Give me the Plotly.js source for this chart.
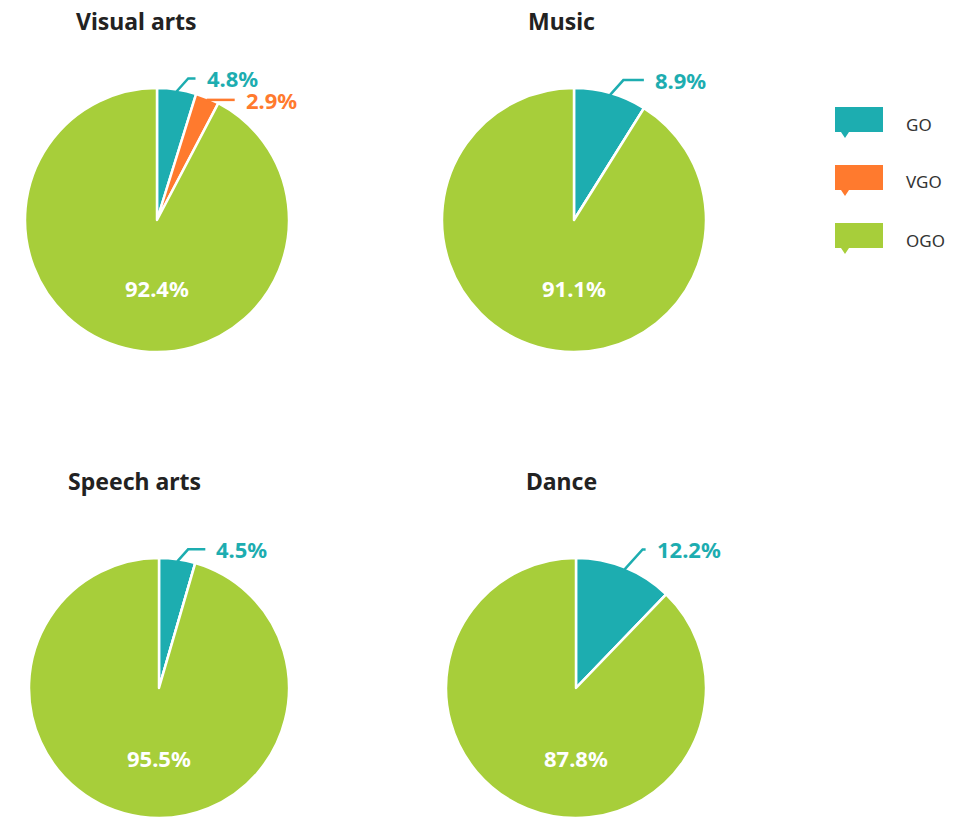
<!DOCTYPE html>
<html>
<head>
<meta charset="utf-8">
<script src="https://cdn.plot.ly/plotly-3.0.1.min.js"></script>
<style>html,body{margin:0;padding:0;background:#fff;}#chart{width:963px;height:818px;}</style>
</head>
<body>
<div id="chart"></div>
<script>
// ---- data ----
const categories = ["GO", "VGO", "OGO"];
const panelTitles = ["Visual arts", "Music", "Speech arts", "Dance"];
const visualArts = [4.8, 2.9, 92.4];
const music = [8.9, 0, 91.1];
const speechArts = [4.5, 0, 95.5];
const dance = [12.2, 0, 87.8];
const seriesValues = [visualArts, music, speechArts, dance];

// ---- style / layout ----
const W = 963, H = 818;
const colors = ["#1dadb0", "#ff7a2e", "#a7ce3a"];
const fontFam = "'Noto Sans', 'Open Sans', sans-serif";
// pie centres (px) and radius
const centers = [[157, 220], [574, 220], [159, 690], [576, 690]];
const R = 130;
const DOM = 132;
const titlePos = [[136, 21], [561, 21], [134, 481], [561, 481]];
// outside label offsets (dx, dy from slice anchor) per panel per slice
const labelOffsets = [
  [[28, -13], [37, 0]],
  [[43, -15]],
  [[37, -12]],
  [[30, -20]]
];

const px = x => x / W;
const py = y => 1 - y / H;

const traces = [];
const annotations = [];
const shapes = [];

seriesValues.forEach((vals, i) => {
  const [cx, cy] = centers[i];
  traces.push({
    type: "pie",
    values: vals,
    labels: categories,
    sort: false,
    direction: "clockwise",
    rotation: 0,
    marker: { colors: colors, line: { color: "#ffffff", width: 2.5 } },
    textinfo: "none",
    hoverinfo: "label+percent",
    showlegend: false,
    domain: { x: [px(cx - DOM), px(cx + DOM)], y: [Math.max(0, py(cy + DOM)), py(cy - DOM)] }
  });
  annotations.push({
    text: "<b>" + panelTitles[i] + "</b>",
    x: px(titlePos[i][0]), y: py(titlePos[i][1]),
    xref: "paper", yref: "paper", showarrow: false,
    xanchor: "center", yanchor: "middle",
    font: { family: fontFam, size: 23, color: "#222222" }
  });
  // labels
  const total = vals.reduce((a, b) => a + b, 0);
  let cum = 0, k = 0;
  vals.forEach((v, j) => {
    if (v <= 0) { return; }
    const mid = (cum + v / 2) / total * 2 * Math.PI;
    cum += v;
    if (j === vals.length - 1) {
      annotations.push({
        text: "<b>" + v.toFixed(1) + "%</b>",
        x: px(cx), y: py(cy + 0.52 * R),
        xref: "paper", yref: "paper", showarrow: false,
        xanchor: "center", yanchor: "middle",
        font: { family: fontFam, size: 22, color: "#ffffff" }
      });
      return;
    }
    const ax = cx + R * Math.sin(mid), ay = cy - R * Math.cos(mid);
    const off = labelOffsets[i][k++];
    const tx = ax + off[0], ty = ay + off[1];
    const bx = ax + Math.max(4, Math.abs(off[1]) * 0.9), by = ty;
    shapes.push({
      type: "path", xref: "paper", yref: "paper",
      path: `M ${px(ax)} ${py(ay)} L ${px(bx)} ${py(by)} L ${px(tx - 9)} ${py(ty)}`,
      line: { color: colors[j], width: 2.5 }
    });
    annotations.push({
      text: "<b>" + v.toFixed(1) + "%</b>",
      x: px(tx), y: py(ty),
      xref: "paper", yref: "paper", showarrow: false,
      xanchor: "left", yanchor: "middle",
      font: { family: fontFam, size: 22, color: colors[j] }
    });
  });
});

// custom legend (speech-bubble markers)
categories.forEach((c, j) => {
  const lx = 835, ly = 107 + j * 58, bw = 48, bh = 25;
  shapes.push({
    type: "path", xref: "paper", yref: "paper",
    path: `M ${px(lx)} ${py(ly)} L ${px(lx + bw)} ${py(ly)} L ${px(lx + bw)} ${py(ly + bh)} L ${px(lx + 14)} ${py(ly + bh)} L ${px(lx + 10)} ${py(ly + bh + 6)} L ${px(lx + 6)} ${py(ly + bh)} L ${px(lx)} ${py(ly + bh)} Z`,
    fillcolor: colors[j], line: { width: 0 }
  });
  annotations.push({
    text: c, x: px(904), y: py(ly + 17),
    xref: "paper", yref: "paper", showarrow: false,
    xanchor: "left", yanchor: "middle",
    font: { family: fontFam, size: 17, color: "#333333" }
  });
});

const layout = {
  width: W, height: H,
  margin: { l: 0, r: 0, t: 0, b: 0 },
  paper_bgcolor: "#ffffff",
  showlegend: false,
  annotations: annotations,
  shapes: shapes
};

Plotly.newPlot("chart", traces, layout, { displayModeBar: false, staticPlot: true });
</script>
</body>
</html>
